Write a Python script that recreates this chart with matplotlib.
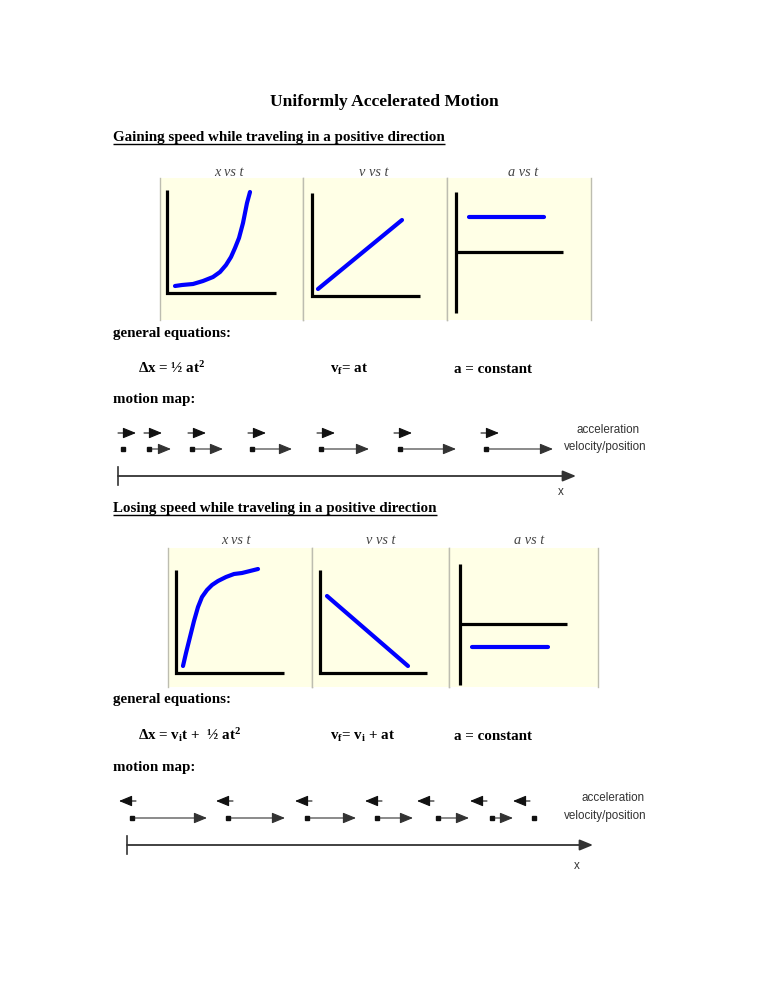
import matplotlib
matplotlib.use('Agg')
import matplotlib.pyplot as plt

plt.rcParams['mathtext.fontset'] = 'custom'
plt.rcParams['mathtext.rm'] = 'Liberation Serif:bold'
plt.rcParams['mathtext.it'] = 'Liberation Serif:bold'
plt.rcParams['mathtext.bf'] = 'Liberation Serif:bold'

# ---------------- data ----------------
title = "Uniformly Accelerated Motion"
section_titles = ["Gaining speed while traveling in a positive direction",
                  "Losing speed while traveling in a positive direction"]
graph_titles = ["x vs t", "v vs t", "a vs t"]
eq_gain = ["Δx = ½ at$^2$", "v$_f$= at", "a = constant"]
eq_lose = ["Δx = v$_i$t +  ½ at$^2$", "v$_f$= v$_i$ + at", "a = constant"]
map_labels = ["acceleration", "velocity/position"]

# sketch curves (panel-local units, origin at the drawn axes corner)
gain_x_t = [8, 15, 26, 36, 46, 53, 59, 64, 68, 72, 76, 80, 83]
gain_x_val = [7, 8, 9, 12, 16, 21, 28, 36, 45, 55, 70, 90, 101]
gain_v_t = [6, 90]
gain_v_val = [7, 76]
gain_a_t = [13, 88]
gain_a_val = [35, 35]

lose_x_t = [7, 10, 14, 18, 22, 26, 31, 36, 42, 50, 58, 66, 74, 82]
lose_x_val = [7, 20, 36, 52, 66, 76, 83, 88, 92, 96, 99, 100, 102, 104]
lose_v_t = [7, 88]
lose_v_val = [77, 7]
lose_a_t = [12, 88]
lose_a_val = [-23, -23]

# motion maps (positions along x)
gain_dot_x = [123, 149, 192, 252, 321, 400, 486]
gain_vel_len = [0, 22, 31, 40, 48, 56, 67]
gain_acc_x = [118, 144, 188, 248, 317, 394, 481]
gain_acc_len = [18, 18, 18, 18, 18, 18, 18]

lose_dot_x = [132, 228, 307, 377, 438, 492, 534]
lose_vel_len = [75, 57, 49, 36, 31, 21, 0]
lose_acc_x = [136, 233, 312, 382, 434, 487, 530]
lose_acc_len = [-17, -17, -17, -17, -17, -17, -17]

# ---------------- layout ----------------
W, H = 768, 994
fig = plt.figure(figsize=(W / 100, H / 100), dpi=100)
page = fig.add_axes([0, 0, 1, 1])
page.set_xlim(0, W)
page.set_ylim(H, 0)
page.axis('off')

SERIF = 'Liberation Serif'
SANS = 'Liberation Sans'
PANEL_BG = '#FFFFE6'
PANEL_EDGE = '#BDBDB0'
BLUE = '#0000FF'

page.text(384, 102, title, ha='center', va='center', family=SERIF,
          weight='bold', fontsize=12.6)

renderer = fig.canvas.get_renderer()


def heading(x, y_base, s):
    t = page.text(x, y_base, s, ha='left', va='baseline', family=SERIF,
                  weight='bold', fontsize=10.8)
    bb = t.get_window_extent(renderer)
    x1 = bb.x1  # figure px == data units horizontally
    page.plot([x, x1], [y_base + 2.5, y_base + 2.5], color='black', lw=1.0,
              solid_capstyle='butt')


heading(113, 141, section_titles[0])
heading(113, 512, section_titles[1])


def panels(edges, y0, y1, origins, axes_spec, curves, title_y, title_x):
    for i in range(3):
        bx0, bx1 = edges[i], edges[i + 1]
        ox, oy = origins[i]
        ax = fig.add_axes([bx0 / W, 1 - y1 / H, (bx1 - bx0) / W, (y1 - y0) / H])
        ax.set_xlim(bx0 - ox, bx1 - ox)
        ax.set_ylim(oy - y1, oy - y0)
        ax.set_facecolor(PANEL_BG)
        for s in ['top', 'bottom']:
            ax.spines[s].set_visible(False)
        for s in ['left', 'right']:
            ax.spines[s].set_color(PANEL_EDGE)
            ax.spines[s].set_linewidth(1.0)
        ax.set_xticks([])
        ax.set_yticks([])
        up, down, hl = axes_spec[i]
        if down == 0:
            ax.plot([0, 0, hl], [up, 0, 0], color='black', lw=2.3,
                    solid_joinstyle='miter', solid_capstyle='butt')
        else:
            ax.plot([0, 0], [-down, up], color='black', lw=2.3,
                    solid_capstyle='butt')
            ax.plot([0, hl], [0, 0], color='black', lw=2.3,
                    solid_capstyle='butt')
        ct, cv = curves[i]
        ax.plot(ct, cv, color=BLUE, lw=3.0, solid_capstyle='round',
                solid_joinstyle='round')
        page.text(title_x[i], title_y, graph_titles[i], ha='center',
                  va='center', family=SERIF, style='italic', fontsize=10.3,
                  color='#444444')


panels([160, 303, 447, 591], 178, 320,
       [(167, 293), (312, 296), (456, 252)],
       [(103, 0, 109), (103, 0, 108), (60, 61, 107)],
       [(gain_x_t, gain_x_val), (gain_v_t, gain_v_val), (gain_a_t, gain_a_val)],
       172, [229, 374, 523])

panels([168, 312, 449, 598], 548, 687,
       [(176, 673), (320, 673), (460, 624)],
       [(103, 0, 108), (103, 0, 107), (60, 61, 107)],
       [(lose_x_t, lose_x_val), (lose_v_t, lose_v_val), (lose_a_t, lose_a_val)],
       540, [236, 381, 529])


def body(x, y, s, va='center'):
    page.text(x, y, s, ha='left', va=va, family=SERIF, weight='bold',
              fontsize=10.8)


body(113, 333, "general equations:")
body(113, 400, "motion map:")
body(113, 700, "general equations:")
body(113, 767, "motion map:")

eq_x = [138, 330, 454]
for i in range(3):
    body(eq_x[i], 373, eq_gain[i], va='baseline')
    body(eq_x[i], 740, eq_lose[i], va='baseline')


def arrow(x0, x1, y, color='#222222', lw=0.8):
    page.annotate('', xy=(x1, y), xytext=(x0, y),
                  arrowprops=dict(arrowstyle='-|>,head_length=0.8,head_width=0.33',
                                  mutation_scale=10, color=color, lw=lw,
                                  shrinkA=0, shrinkB=0))


def motion_map(acc_x, acc_len, dot_x, vel_len, y_acc, y_vel, y_axis,
               tick_x, axis_end, x_label, lab_right, lab_y):
    for x0, L in zip(acc_x, acc_len):
        arrow(x0, x0 + L, y_acc, color='#111111')
    page.plot(dot_x, [y_vel] * len(dot_x), 's', color='#111111',
              markersize=3.3, linestyle='none')
    for x0, L in zip(dot_x, vel_len):
        if L > 0:
            arrow(x0 + 3, x0 + L, y_vel, color='#333333')
    page.plot([tick_x, tick_x], [y_axis - 9, y_axis + 9], color='#333333', lw=1.2)
    arrow(tick_x, axis_end, y_axis, color='#333333', lw=1.3)
    page.text(x_label[0], x_label[1], 'x', ha='center', va='center',
              family=SANS, fontsize=8.4, color='#333333')
    page.text(lab_right[0], lab_y[0], map_labels[0], ha='right', va='center',
              family=SANS, fontsize=8.4, color='#333333')
    page.text(lab_right[1], lab_y[1], map_labels[1], ha='right', va='center',
              family=SANS, fontsize=8.4, color='#333333')


motion_map(gain_acc_x, gain_acc_len, gain_dot_x, gain_vel_len,
           433, 449, 476, 118, 576, (561, 492), (640, 647), (430, 447))
motion_map(lose_acc_x, lose_acc_len, lose_dot_x, lose_vel_len,
           801, 818, 845, 127, 593, (577, 866), (645, 647), (798, 816))

fig.savefig('out.png', dpi=100, facecolor='white')
